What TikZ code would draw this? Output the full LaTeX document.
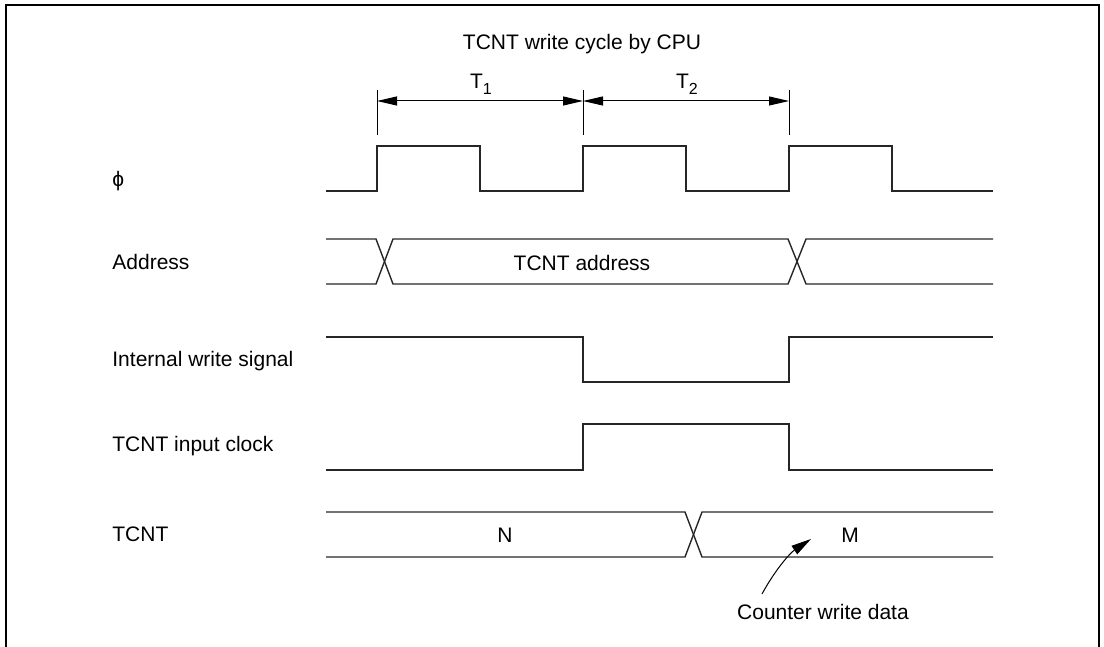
\documentclass[tikz,border=0pt]{standalone}
\usepackage{fontspec}
\setmainfont{Liberation Sans}
\usetikzlibrary{arrows.meta}
\newcommand{\lowsub}[1]{\raisebox{-3pt}{\fontsize{8}{8}\selectfont #1}}
\begin{document}
\begin{tikzpicture}[x=0.5pt,y=-0.5pt,
  sig/.style={line width=0.7pt, line join=miter, draw=black!85},
  lbl/.style={font=\fontsize{10.5}{12}\selectfont, inner sep=0pt},
  tick/.style={line width=0.5pt},
  dimline/.style={line width=0.5pt, {Triangle[length=10pt,width=4.5pt]}-{Triangle[length=10pt,width=4.5pt]}},
  callout/.style={line width=0.5pt, -{Triangle[length=10pt,width=5pt]}}]
\useasboundingbox (0,0) rectangle (1104,647);
\draw[line width=1pt] (6,647) -- (6,5) -- (1099,5) -- (1099,647);

% title and period marks
\node[lbl] (title) at (582,44) {TCNT write cycle by CPU};
\coordinate (m0) at (377,101);
\coordinate (m1) at (583,101);
\coordinate (m2) at (789,101);
\draw[tick] (377,90) -- (377,135);
\draw[tick] (583,90) -- (583,135);
\draw[tick] (789,90) -- (789,135);
\draw[dimline] (m0) -- (m1);
\draw[dimline] (m1) -- (m2);
\node[lbl] (t1) at (481,84) {T\lowsub{1}};
\node[lbl] (t2) at (687,84) {T\lowsub{2}};

% signal labels
\node[lbl,anchor=west] (lphi) at (112,181) {ϕ};
\node[lbl,anchor=west] (laddr) at (112,262) {Address};
\node[lbl,anchor=west] (lwr) at (112,361) {Internal write signal};
\node[lbl,anchor=west] (lclk) at (112,446) {TCNT input clock};
\node[lbl,anchor=west] (ltcnt) at (112,534) {TCNT};

% phi clock
\draw[sig] (326,191) -- (377,191) -- (377,146) -- (480,146) -- (480,191) -- (583,191)
  -- (583,146) -- (686,146) -- (686,191) -- (789,191) -- (789,146) -- (892,146)
  -- (892,191) -- (993,191);

% address bus
\draw[sig] (326,239) -- (376,239) -- (393,284) -- (788,284) -- (806,239) -- (993,239);
\draw[sig] (326,284) -- (376,284) -- (393,239) -- (788,239) -- (806,284) -- (993,284);
\node[lbl] (addr) at (582,263) {TCNT address};

% internal write signal
\draw[sig] (326,337) -- (583,337) -- (583,382) -- (789,382) -- (789,337) -- (993,337);

% TCNT input clock
\draw[sig] (326,470) -- (583,470) -- (583,424) -- (789,424) -- (789,470) -- (993,470);

% TCNT value
\draw[sig] (326,512) -- (685,512) -- (702,557) -- (993,557);
\draw[sig] (326,557) -- (685,557) -- (702,512) -- (993,512);
\node[lbl] (n) at (505,535) {N};
\node[lbl] (m) at (850,535) {M};

% callout
\node[lbl] (cwd) at (823,612) {Counter write data};
\coordinate (tip) at (811,539);
\draw[callout] (762,594) .. controls (775,570) and (790,553) .. (tip);
\end{tikzpicture}
\end{document}
